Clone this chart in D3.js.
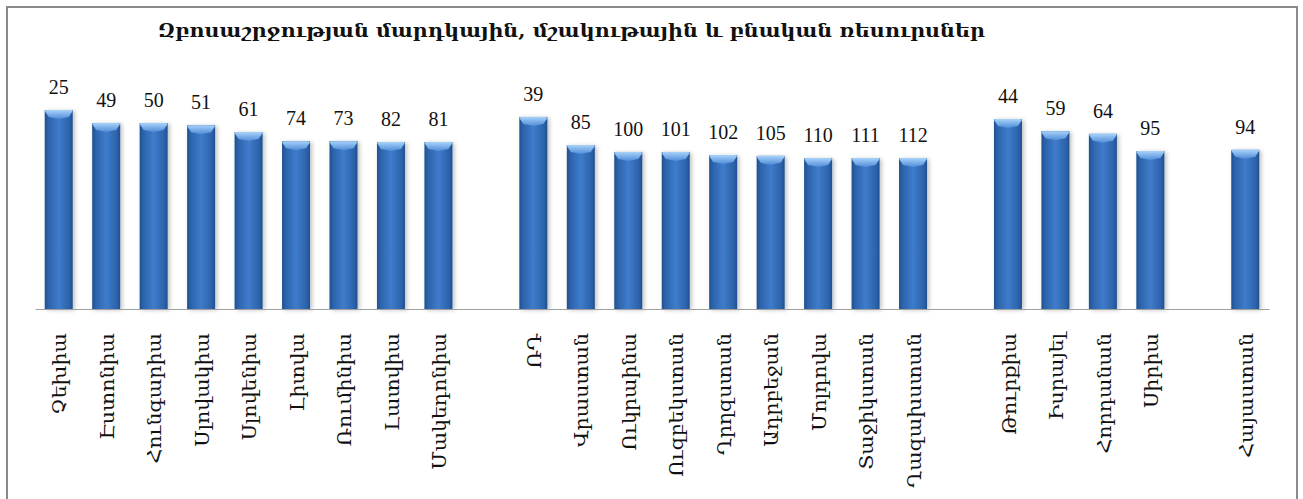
<!DOCTYPE html>
<html><head><meta charset="utf-8">
<script src="https://cdn.jsdelivr.net/npm/d3@7"></script>
<style>body{margin:0;background:#fff;overflow:hidden}</style>
</head><body><svg id="c" width="1303" height="499"></svg>
<script>
const titleText = "Զբոսաշրջության մարդկային, մշակութային և բնական ռեսուրսներ";

const groupEurope = ["Չեխիա","Էստոնիա","Հունգարիա","Սլովակիա","Սլովենիա","Լիտվա","Ռումինիա","Լատվիա","Մակեդոնիա"];
const rankEurope  = [25,49,50,51,61,74,73,82,81];
const scoreEurope = [4.60,4.30,4.30,4.25,4.09,3.88,3.88,3.86,3.86];

const groupCIS = ["ՌԴ","Վրաստան","Ուկրաինա","Ուզբեկստան","Ղրղզստան","Ադրբեջան","Մոլդովա","Տաջիկստան","Ղազախստան"];
const rankCIS  = [39,85,100,101,102,105,110,111,112];
const scoreCIS = [4.44,3.79,3.63,3.63,3.56,3.54,3.49,3.49,3.49];

const groupEast = ["Թուրքիա","Իսրայել","Հորդանան","Սիրիա"];
const rankEast  = [44,59,64,95];
const scoreEast = [4.39,4.11,4.05,3.65];

const groupArmenia = ["Հայաստան"];
const rankArmenia  = [94];
const scoreArmenia = [3.68];

const yDomain = [0, 5];

// build rows (with empty separator slots between groups)
const groups = [
  [groupEurope, rankEurope, scoreEurope],
  [groupCIS, rankCIS, scoreCIS],
  [groupEast, rankEast, scoreEast],
  [groupArmenia, rankArmenia, scoreArmenia]
];
const slots = [];
const rows = [];
groups.forEach((gr, gi) => {
  if (gi > 0) slots.push("__gap" + gi);
  gr[0].forEach((name, i) => {
    slots.push(name);
    rows.push({name, rank: gr[1][i], score: gr[2][i]});
  });
});

const svg = d3.select("#c");
const defs = svg.append("defs");

const bg = defs.append("linearGradient").attr("id","barGrad")
  .attr("x1","0").attr("x2","1").attr("y1","0").attr("y2","0");
[[0,"#1f4f8f"],[0.12,"#2c62aa"],[0.5,"#3f7ccb"],[0.88,"#2c62aa"],[1,"#1f4f8f"]]
  .forEach(([o,c]) => bg.append("stop").attr("offset",o).attr("stop-color",c));

const cg = defs.append("linearGradient").attr("id","capGrad")
  .attr("x1","0").attr("x2","0").attr("y1","0").attr("y2","1");
[[0,"#a8d2fa"],[1,"#4f8cd8"]]
  .forEach(([o,c]) => cg.append("stop").attr("offset",o).attr("stop-color",c));

const f = defs.append("filter").attr("id","shadow").attr("x","-30%").attr("y","-10%").attr("width","160%").attr("height","120%");
f.append("feDropShadow").attr("dx",2).attr("dy",1).attr("stdDeviation",2)
  .attr("flood-color","#000").attr("flood-opacity",0.25);

// frame
svg.append("rect").attr("x",7).attr("y",7).attr("width",1290).attr("height",505)
  .attr("fill","none").attr("stroke","#8a8a8a").attr("stroke-width",2);

const x = d3.scaleBand().domain(slots).range([35, 1269])
  .paddingInner(0.41).paddingOuter(0.205);
const y = d3.scaleLinear().domain(yDomain).range([309, 309 - 5 * 43.26]);

// bars
const bars = svg.append("g").selectAll("g").data(rows).join("g");
bars.append("rect")
  .attr("x", d => x(d.name))
  .attr("y", d => y(d.score))
  .attr("width", x.bandwidth())
  .attr("height", d => y(0) - y(d.score))
  .attr("fill","url(#barGrad)")
  .attr("filter","url(#shadow)");
bars.append("path")
  .attr("d", d => {
    const x0 = x(d.name), w = x.bandwidth(), t = y(d.score);
    return `M${x0},${t+1} Q${x0},${t} ${x0+2},${t} L${x0+w-2},${t} Q${x0+w},${t} ${x0+w},${t+1} L${x0+w-4},${t+7} L${x0+w/2},${t+9} L${x0+4},${t+7} Z`;
  })
  .attr("fill","url(#capGrad)");

// baseline
const axis = svg.append("g").attr("transform",`translate(0,${y(0)})`)
  .call(d3.axisBottom(x).tickSize(0).tickFormat(""));
axis.select(".domain").attr("stroke","#a0a0a0").attr("stroke-width",1.2);

// value labels (ranks)
svg.append("g").selectAll("text").data(rows).join("text")
  .attr("x", d => x(d.name) + x.bandwidth()/2)
  .attr("y", d => y(d.score) - 16)
  .attr("text-anchor","middle")
  .attr("font-family","'Liberation Serif', serif")
  .attr("font-size",20)
  .attr("fill","#111")
  .text(d => d.rank);

// category labels
const cats = svg.append("g").selectAll("text").data(rows).join("text")
  .attr("transform", d => `translate(${x(d.name) + x.bandwidth()/2 + 1},333) rotate(-90)`)
  .attr("text-anchor","end")
  .attr("dy","0.35em")
  .attr("font-family","'DejaVu Serif', serif")
  .attr("font-size",19)
  .attr("fill","#111")
  .text(d => d.name);
cats.each(function() {
  const len = this.getComputedTextLength();
  d3.select(this).attr("textLength", Math.min(len * 1.08, 156)).attr("lengthAdjust","spacingAndGlyphs");
});

// title
svg.append("text")
  .attr("x",158).attr("y",37)
  .attr("font-family","'DejaVu Serif', serif")
  .attr("font-weight","bold")
  .attr("font-size",19)
  .attr("fill","#111")
  .attr("textLength",827)
  .attr("lengthAdjust","spacingAndGlyphs")
  .text(titleText);
</script></body></html>
